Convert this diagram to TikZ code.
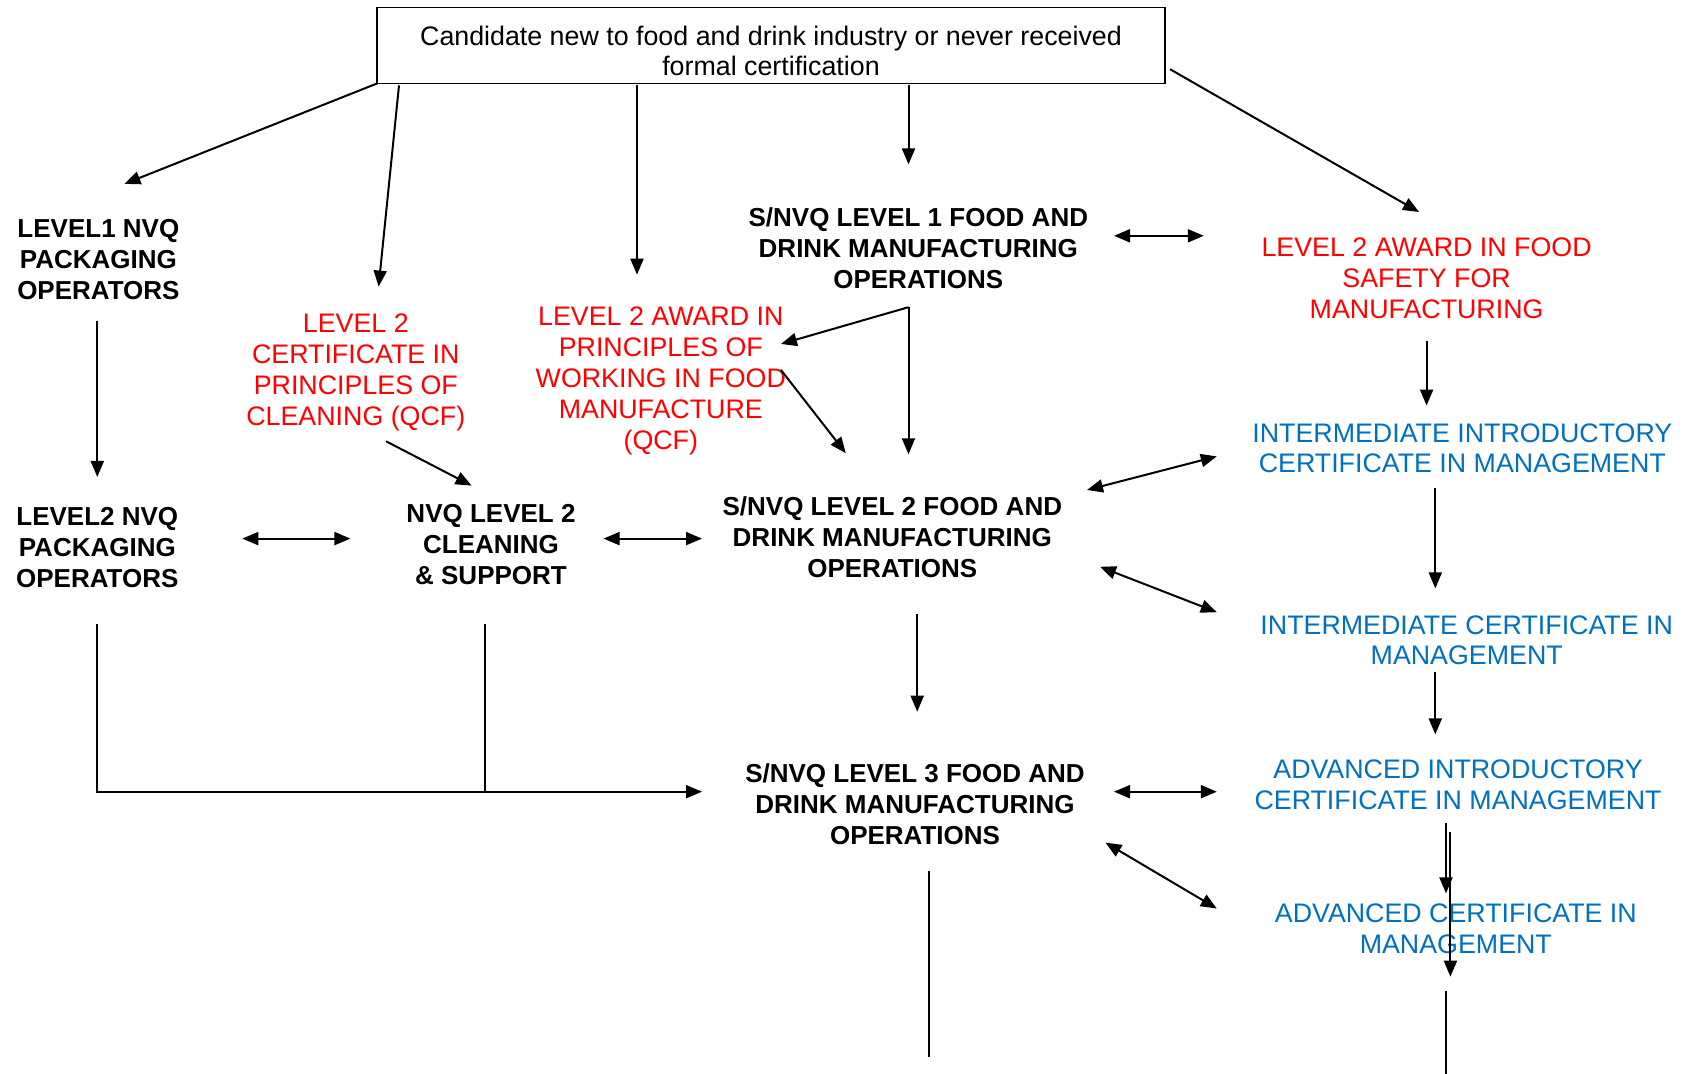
\documentclass[tikz,border=0pt]{standalone}
\usepackage{fontspec}
\setmainfont{Liberation Sans}
\usetikzlibrary{arrows.meta}
\definecolor{myred}{RGB}{255,0,0}
\definecolor{myblue}{RGB}{0,112,192}
\begin{document}
\begin{tikzpicture}[x=0.5pt,y=-0.5pt,
  lbl/.style={align=center,font=\fontsize{13.4}{15.4}\selectfont,inner sep=0pt},
  blk/.style={align=center,inner sep=0pt,font=\fontsize{13}{15.4}\selectfont\bfseries},
  redt/.style={lbl,text=myred},
  bluet/.style={lbl,text=myblue},
  tip/.tip={Triangle[length=8pt,width=6.5pt]},
  con/.style={line width=1pt,-tip},
  bi/.style={line width=1pt,tip-tip},
  ln/.style={line width=1pt}]
\useasboundingbox (0,0) rectangle (1696,1074);
\fill[white] (0,0) rectangle (1696,1074);

% nodes
\node[draw,line width=0.8pt,minimum width=394pt,minimum height=38pt,inner sep=0pt] (top) at (771,45.5) {};
\node[lbl] (toptext) at (771,51) {Candidate new to food and drink industry or never received\\formal certification};
\node[blk] (l1pack) at (98.4,259.6) {LEVEL1 NVQ\\PACKAGING\\OPERATORS};
\node[redt] (clcert) at (355.8,372.4) {LEVEL 2\\CERTIFICATE IN\\PRINCIPLES OF\\CLEANING (QCF)};
\node[redt] (award) at (660.8,381) {LEVEL 2 AWARD IN\\PRINCIPLES OF\\WORKING IN FOOD\\MANUFACTURE\\(QCF)};
\node[blk] (l1food) at (918.3,248.2) {S/NVQ LEVEL 1 FOOD AND\\DRINK MANUFACTURING\\OPERATIONS};
\node[redt] (safety) at (1426.6,278.4) {LEVEL 2 AWARD IN FOOD\\SAFETY FOR\\MANUFACTURING};
\node[bluet] (iic) at (1462.3,448.3) {INTERMEDIATE INTRODUCTORY\\CERTIFICATE IN MANAGEMENT};
\node[bluet] (ic) at (1466.7,640.3) {INTERMEDIATE CERTIFICATE IN\\MANAGEMENT};
\node[bluet] (aic) at (1458,784.7) {ADVANCED INTRODUCTORY\\CERTIFICATE IN MANAGEMENT};
\node[bluet] (ac) at (1455.8,928.5) {ADVANCED CERTIFICATE IN\\MANAGEMENT};
\node[blk] (l2pack) at (97.3,547.8) {LEVEL2 NVQ\\PACKAGING\\OPERATORS};
\node[blk] (clean) at (491,544.6) {NVQ LEVEL 2\\CLEANING\\\& SUPPORT};
\node[blk] (l2food) at (892.3,537) {S/NVQ LEVEL 2 FOOD AND\\DRINK MANUFACTURING\\OPERATIONS};
\node[blk] (l3food) at (915,804.2) {S/NVQ LEVEL 3 FOOD AND\\DRINK MANUFACTURING\\OPERATIONS};

% connector end points
\coordinate (t1) at (377.5,83.3);   \coordinate (e1) at (124.4,183.9);
\coordinate (t2) at (399,85.4);     \coordinate (e2) at (378.6,286.6);
\coordinate (t3) at (637,85.4);     \coordinate (e3) at (637,274.7);
\coordinate (t4) at (908.5,85.4);   \coordinate (e4) at (908.5,164.4);
\coordinate (t5) at (1170,69.2);    \coordinate (e5) at (1419,212);
\coordinate (p1) at (97.3,321.2);   \coordinate (p2) at (97.3,477);
\coordinate (c1) at (386.1,441.3);  \coordinate (c2) at (471.6,485.6);
\coordinate (f1) at (908.5,307.2);  \coordinate (f2) at (780.9,344);
\coordinate (f3) at (908.5,454.3);
\coordinate (a1) at (780.9,369.9);  \coordinate (a2) at (845.8,453.2);
\coordinate (s1) at (1114,235.8);   \coordinate (s2) at (1203.8,235.8);
\coordinate (s3) at (1426.6,340.7); \coordinate (s4) at (1426.6,405.6);
\coordinate (g1) at (1087,490);     \coordinate (g2) at (1216.8,456.4);
\coordinate (g3) at (1100,566.8);   \coordinate (g4) at (1216.8,612.2);
\coordinate (i1) at (1435.3,487.8); \coordinate (i2) at (1435.3,588.4);
\coordinate (i3) at (1435.3,671.7); \coordinate (i4) at (1435.3,734.4);
\coordinate (v1) at (1446,823);     \coordinate (v2) at (1446,893.4);
\coordinate (v3) at (1450.4,831.7); \coordinate (v4) at (1450.4,976.7);
\coordinate (b1) at (1446,990.8);   \coordinate (b2) at (1446,1074);
\coordinate (d1) at (929,870.7);    \coordinate (d2) at (929,1056.7);
\coordinate (m1) at (917.2,614.4);  \coordinate (m2) at (917.2,711.7);
\coordinate (h1) at (242.3,538.6);  \coordinate (h2) at (350.4,538.6);
\coordinate (h3) at (603.5,538.6);  \coordinate (h4) at (702,538.6);
\coordinate (q1) at (97.3,624);     \coordinate (q2) at (97.3,791.7);
\coordinate (q3) at (702,791.7);
\coordinate (r1) at (484.6,624);    \coordinate (r2) at (484.6,791.7);
\coordinate (k1) at (1114,791.7);   \coordinate (k2) at (1216.8,791.7);
\coordinate (k3) at (1105.4,842.6); \coordinate (k4) at (1216.8,908.5);

% connectors
\draw[con] (t1) -- (e1);
\draw[con] (t2) -- (e2);
\draw[con] (t3) -- (e3);
\draw[con] (t4) -- (e4);
\draw[con] (t5) -- (e5);
\draw[con] (p1) -- (p2);
\draw[con] (c1) -- (c2);
\draw[con] (f1) -- (f2);
\draw[con] (f1) -- (f3);
\draw[con] (a1) -- (a2);
\draw[bi] (s1) -- (s2);
\draw[con] (s3) -- (s4);
\draw[bi] (g1) -- (g2);
\draw[bi] (g3) -- (g4);
\draw[con] (i1) -- (i2);
\draw[con] (i3) -- (i4);
\draw[con] (v1) -- (v2);
\draw[con] (v3) -- (v4);
\draw[ln] (b1) -- (b2);
\draw[ln] (d1) -- (d2);
\draw[con] (m1) -- (m2);
\draw[bi] (h1) -- (h2);
\draw[bi] (h3) -- (h4);
\draw[con] (q1) -- (q2) -- (q3);
\draw[ln] (r1) -- (r2);
\draw[bi] (k1) -- (k2);
\draw[bi] (k3) -- (k4);
\end{tikzpicture}
\end{document}
